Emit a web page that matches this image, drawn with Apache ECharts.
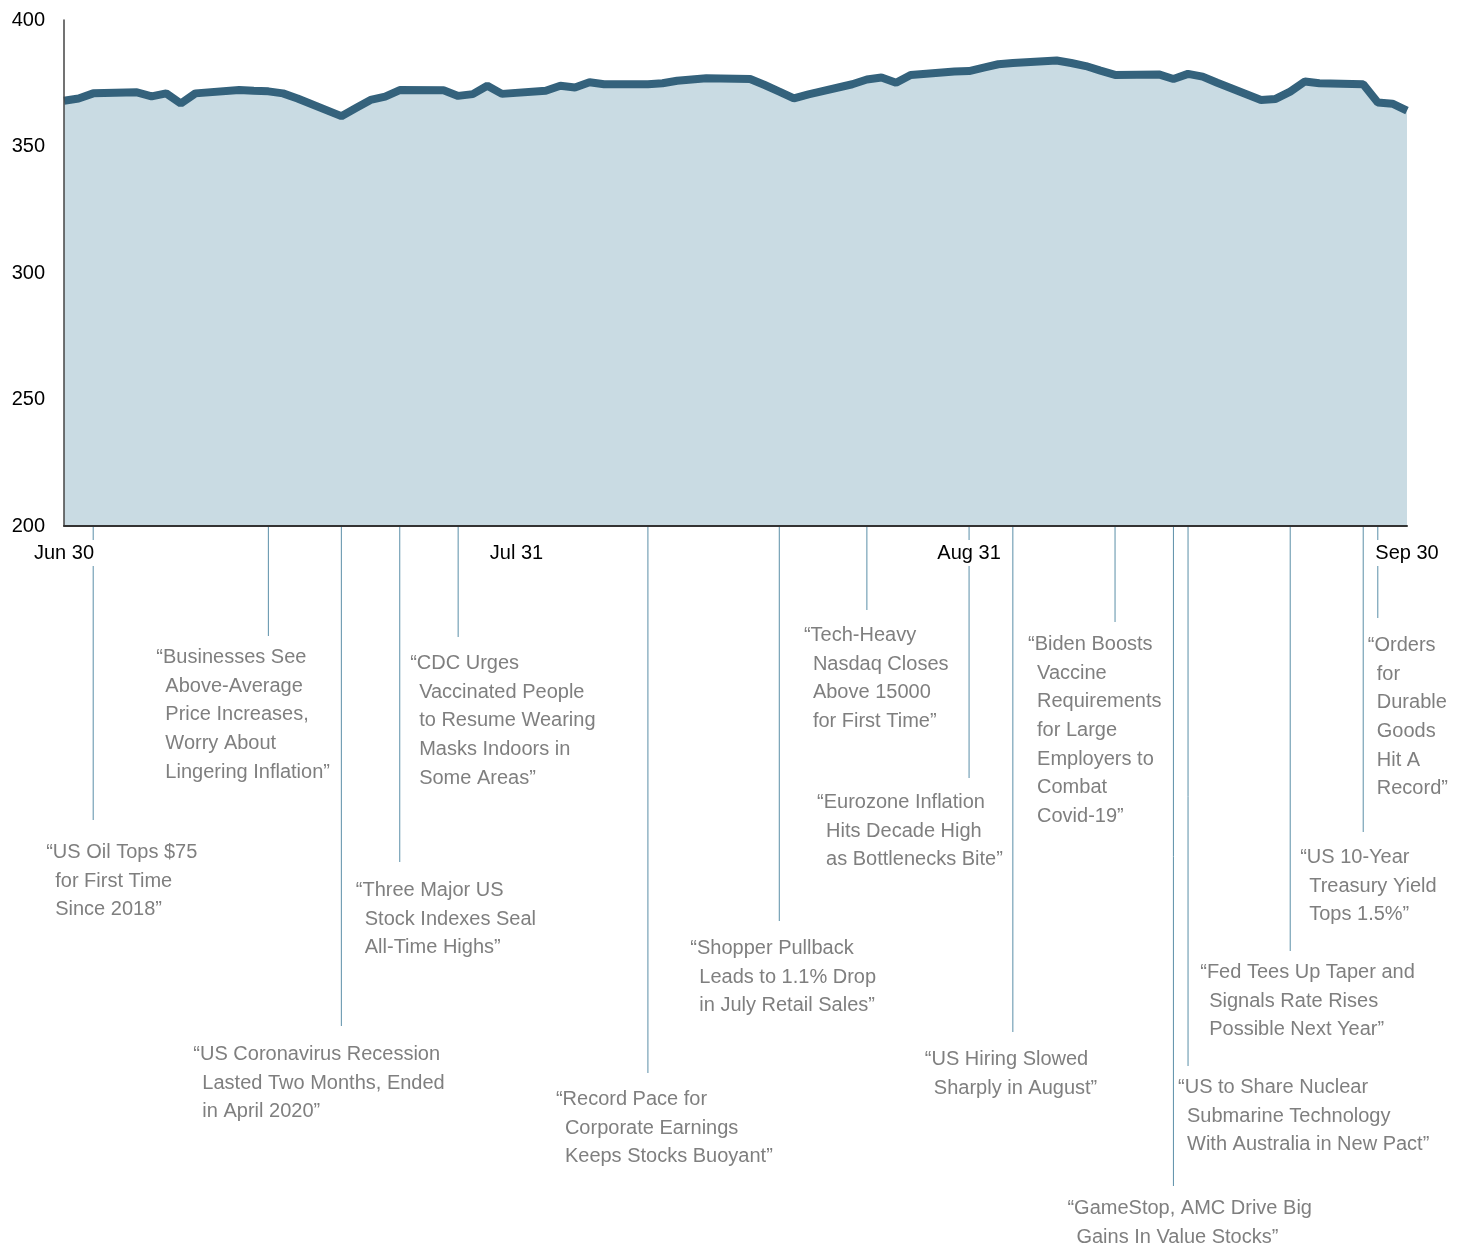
<!DOCTYPE html>
<html>
<head>
<meta charset="utf-8">
<script src="https://cdn.jsdelivr.net/npm/echarts@6/dist/echarts.min.js"></script>
<style>
  html, body { margin: 0; padding: 0; background: #fff; }
  #chart { width: 1465px; height: 1247px; }
</style>
</head>
<body>
<div id="chart"></div>
<script>
// weekdays, Jun 30 - Sep 30 2021
const dates = [
  '2021-06-30',
  '2021-07-01', '2021-07-02', '2021-07-05', '2021-07-06', '2021-07-07', '2021-07-08', '2021-07-09',
  '2021-07-12', '2021-07-13', '2021-07-14', '2021-07-15', '2021-07-16',
  '2021-07-19', '2021-07-20', '2021-07-21', '2021-07-22', '2021-07-23',
  '2021-07-26', '2021-07-27', '2021-07-28', '2021-07-29', '2021-07-30',
  '2021-08-02', '2021-08-03', '2021-08-04', '2021-08-05', '2021-08-06',
  '2021-08-09', '2021-08-10', '2021-08-11', '2021-08-12', '2021-08-13',
  '2021-08-16', '2021-08-17', '2021-08-18', '2021-08-19', '2021-08-20',
  '2021-08-23', '2021-08-24', '2021-08-25', '2021-08-26', '2021-08-27',
  '2021-08-30', '2021-08-31', '2021-09-01', '2021-09-02', '2021-09-03',
  '2021-09-06', '2021-09-07', '2021-09-08', '2021-09-09', '2021-09-10',
  '2021-09-13', '2021-09-14', '2021-09-15', '2021-09-16', '2021-09-17',
  '2021-09-20', '2021-09-21', '2021-09-22', '2021-09-23', '2021-09-24',
  '2021-09-27', '2021-09-28', '2021-09-29', '2021-09-30'
]
const values = [
  368.1,
  369.0, 371.0, 371.4, 369.8, 371.0, 367.0, 371.0,
  372.3, 372.0, 371.8, 371.0, 369.0,
  362.0, 365.2, 368.4, 369.7, 372.3,
  372.2, 370.0, 370.7, 374.0, 370.8,
  372.0, 374.0, 373.3, 375.4, 374.6,
  374.6, 375.0, 376.0, 376.5, 377.0,
  376.7, 374.3, 371.7, 369.0, 370.6,
  374.6, 376.5, 377.3, 375.2, 378.3,
  379.6, 379.8, 381.2, 382.5, 383.0,
  384.0, 383.0, 381.8, 380.0, 378.3,
  378.5, 376.7, 378.7, 377.6, 375.2,
  368.4, 368.8, 371.7, 375.7, 375.0,
  374.6, 367.4, 366.9, 364.2
]

const tickDates = ['2021-06-30', '2021-07-31', '2021-08-31', '2021-09-30']
const tickLabels = ['Jun 30', 'Jul 31', 'Aug 31', 'Sep 30']
const yTicks = [200, 250, 300, 350, 400]

// headlines
const noteDates = [
  '2021-07-02', '2021-07-14', '2021-07-19', '2021-07-23', '2021-07-27', '2021-08-09',
  '2021-08-18', '2021-08-24', '2021-08-31', '2021-09-03', '2021-09-10', '2021-09-14',
  '2021-09-15', '2021-09-22', '2021-09-27', '2021-09-28'
]
const noteTexts = [
  ['“US Oil Tops $75', 'for First Time', 'Since 2018”'],
  ['“Businesses See', 'Above-Average', 'Price Increases,', 'Worry About', 'Lingering Inflation”'],
  ['“US Coronavirus Recession', 'Lasted Two Months, Ended', 'in April 2020”'],
  ['“Three Major US', 'Stock Indexes Seal', 'All-Time Highs”'],
  ['“CDC Urges', 'Vaccinated People', 'to Resume Wearing', 'Masks Indoors in', 'Some Areas”'],
  ['“Record Pace for', 'Corporate Earnings', 'Keeps Stocks Buoyant”'],
  ['“Shopper Pullback', 'Leads to 1.1% Drop', 'in July Retail Sales”'],
  ['“Tech-Heavy', 'Nasdaq Closes', 'Above 15000', 'for First Time”'],
  ['“Eurozone Inflation', 'Hits Decade High', 'as Bottlenecks Bite”'],
  ['“US Hiring Slowed', 'Sharply in August”'],
  ['“Biden Boosts', 'Vaccine', 'Requirements', 'for Large', 'Employers to', 'Combat', 'Covid-19”'],
  ['“GameStop, AMC Drive Big', 'Gains In Value Stocks”'],
  ['“US to Share Nuclear', 'Submarine Technology', 'With Australia in New Pact”'],
  ['“Fed Tees Up Taper and', 'Signals Rate Rises', 'Possible Next Year”'],
  ['“US 10-Year', 'Treasury Yield', 'Tops 1.5%”'],
  ['“Orders', 'for', 'Durable', 'Goods', 'Hit A', 'Record”']
]

// layout of each headline: [text x offset from leader, leader end y, text top y]
const noteLayout = [
  [-47, 820, 838], [-112, 636, 643], [-148, 1026, 1040], [-44, 862, 876],
  [-48, 637, 649], [-92, 1073, 1085], [-89, 921, 934], [-63, 610, 621],
  [-152, 778, 788], [-88, 1032, 1045], [-87, 622, 630], [-106, 1186, 1194],
  [-10, 1066, 1073], [-90, 951, 958], [-63, 832, 843], [-10, 618, 631]
]

const FONT = '"Liberation Sans", Arial, sans-serif'
const LINE_H = 28.7

function dayOf(s) {
  return (Date.parse(s) - Date.parse(dates[0])) / 86400000
}

const tickDays = tickDates.map(dayOf)
const seriesData = dates.map((d, i) => [dayOf(d), values[i]])
const noteData = noteDates.map(d => [dayOf(d), yTicks[0]])

let myChart = echarts.init(document.getElementById('chart'))
let option = {
  animation: false,
  grid: { left: 64, right: 58, top: 20, bottom: 721 },
  xAxis: {
    type: 'value',
    min: 0,
    max: tickDays[tickDays.length - 1],
    z: 10,
    splitLine: { show: false },
    axisTick: { show: false },
    axisLine: { lineStyle: { color: '#333', width: 2 } },
    axisLabel: {
      customValues: tickDays,
      formatter: v => tickLabels[tickDays.indexOf(v)],
      color: '#000',
      fontSize: 20,
      fontFamily: FONT,
      margin: 14,
      backgroundColor: '#fff',
      padding: [3, 2]
    }
  },
  yAxis: {
    type: 'value',
    min: yTicks[0],
    max: yTicks[yTicks.length - 1],
    interval: 50,
    z: 10,
    splitLine: { show: false },
    axisTick: { show: false },
    axisLine: { show: true, lineStyle: { color: '#444', width: 1.5 } },
    axisLabel: { color: '#000', fontSize: 20, fontFamily: FONT, margin: 19 }
  },
  series: [
    {
      type: 'line',
      data: seriesData,
      showSymbol: false,
      lineStyle: { color: '#34627c', width: 8 },
      areaStyle: { color: '#c9dbe3', opacity: 1, origin: 'start' }
    },
    {
      type: 'custom',
      silent: true,
      clip: false,
      z: 1,
      data: noteData,
      renderItem: (params, api) => {
        let i = params.dataIndex
        let p = api.coord([api.value(0), api.value(1)])
        let lay = noteLayout[i]
        let lines = noteTexts[i]
        let tx = p[0] + lay[0]
        let children = [
          {
            type: 'line',
            shape: { x1: p[0], y1: p[1] + 1, x2: p[0], y2: lay[1] },
            style: { stroke: '#5b8fa8', lineWidth: 1 }
          },
          {
            type: 'text',
            style: {
              text: lines[0], x: tx, y: lay[2], fill: '#7f7f7f',
              fontSize: 20, fontFamily: FONT, lineHeight: LINE_H,
              verticalAlign: 'top', align: 'left'
            }
          }
        ]
        if (lines.length > 1) {
          children.push({
            type: 'text',
            style: {
              text: lines.slice(1).join('\n'), x: tx + 9, y: lay[2] + LINE_H, fill: '#7f7f7f',
              fontSize: 20, fontFamily: FONT, lineHeight: LINE_H,
              verticalAlign: 'top', align: 'left'
            }
          })
        }
        return { type: 'group', children: children }
      }
    }
  ]
}
myChart.setOption(option)
</script>
</body>
</html>
